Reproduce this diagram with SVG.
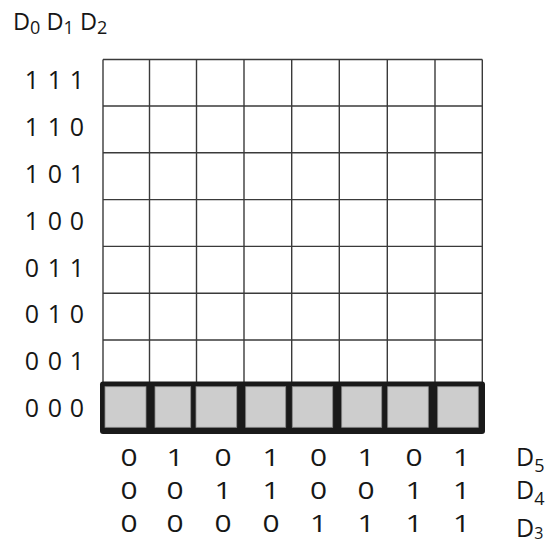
<svg xmlns="http://www.w3.org/2000/svg" width="555" height="547" viewBox="0 0 555 547">
<style>
  text { font-family: "Open Sans", "Noto Sans", sans-serif; fill: #161616; }
  .lbl { font-size: 25px; text-anchor: middle; }
  .bot { font-size: 23px; text-anchor: middle; }
  .D { font-size: 23.5px; }
  .Dr { font-size: 25px; }
  .grid line { stroke: #3a3a3a; stroke-width: 1.4; }
  .cell { fill: #cdcdcd; stroke: #8a8a8a; stroke-width: 0.8; }
</style>
<rect width="555" height="547" fill="#ffffff"/>

<g id="header">
  <text class="D" x="13" y="29.5">D<tspan font-size="18" dy="4">0</tspan></text>
  <text class="D" x="46.5" y="29.5">D<tspan font-size="18" dy="4">1</tspan></text>
  <text class="D" x="80" y="29.5">D<tspan font-size="18" dy="4">2</tspan></text>
</g>

<g id="grid" class="grid">
  <rect x="103" y="59.5" width="379.3" height="324.5" fill="#ffffff"/>
  <line x1="103" y1="59.5" x2="482.3" y2="59.5"/>
  <line x1="103" y1="106" x2="482.3" y2="106"/>
  <line x1="103" y1="152.8" x2="482.3" y2="152.8"/>
  <line x1="103" y1="199.6" x2="482.3" y2="199.6"/>
  <line x1="103" y1="246.4" x2="482.3" y2="246.4"/>
  <line x1="103" y1="293.2" x2="482.3" y2="293.2"/>
  <line x1="103" y1="340" x2="482.3" y2="340"/>
  <line x1="103" y1="59.5" x2="103" y2="384"/>
  <line x1="149.5" y1="59.5" x2="149.5" y2="384"/>
  <line x1="196.5" y1="59.5" x2="196.5" y2="384"/>
  <line x1="244" y1="59.5" x2="244" y2="384"/>
  <line x1="291.7" y1="59.5" x2="291.7" y2="384"/>
  <line x1="339.3" y1="59.5" x2="339.3" y2="384"/>
  <line x1="387.3" y1="59.5" x2="387.3" y2="384"/>
  <line x1="435" y1="59.5" x2="435" y2="384"/>
  <line x1="482.3" y1="59.5" x2="482.3" y2="384"/>
</g>

<g id="row000">
  <rect x="100" y="381.5" width="385" height="52.5" rx="3" fill="#1a1a1a"/>
  <rect class="cell" x="105" y="386.7" width="41" height="40.6"/>
  <rect class="cell" x="155" y="386.7" width="35.7" height="40.6"/>
  <rect class="cell" x="196" y="386.7" width="40.7" height="40.6"/>
  <rect class="cell" x="245.7" y="386.7" width="40" height="40.6"/>
  <rect class="cell" x="292.3" y="386.7" width="40.4" height="40.6"/>
  <rect class="cell" x="341.7" y="386.7" width="40" height="40.6"/>
  <rect class="cell" x="387.7" y="386.7" width="40.6" height="40.6"/>
  <rect class="cell" x="437.7" y="386.7" width="40.6" height="40.6"/>
</g>

<g id="row-labels" class="lbl">
  <text x="32" y="89.3">1</text><text x="55" y="89.3">1</text><text x="77" y="89.3">1</text>
  <text x="32" y="136.2">1</text><text x="55" y="136.2">1</text><text x="77" y="136.2">0</text>
  <text x="32" y="183">1</text><text x="55" y="183">0</text><text x="77" y="183">1</text>
  <text x="32" y="229.8">1</text><text x="55" y="229.8">0</text><text x="77" y="229.8">0</text>
  <text x="32" y="276.6">0</text><text x="55" y="276.6">1</text><text x="77" y="276.6">1</text>
  <text x="32" y="323.3">0</text><text x="55" y="323.3">1</text><text x="77" y="323.3">0</text>
  <text x="32" y="370">0</text><text x="55" y="370">0</text><text x="77" y="370">1</text>
  <text x="32" y="416.7">0</text><text x="55" y="416.7">0</text><text x="77" y="416.7">0</text>
</g>

<g id="col-labels" class="bot">
  <g transform="translate(0,466)">
    <text transform="translate(129,0) scale(1.3,1)">0</text>
    <text transform="translate(175,0) scale(1.3,1)">1</text>
    <text transform="translate(223,0) scale(1.3,1)">0</text>
    <text transform="translate(271,0) scale(1.3,1)">1</text>
    <text transform="translate(318.5,0) scale(1.3,1)">0</text>
    <text transform="translate(366,0) scale(1.3,1)">1</text>
    <text transform="translate(414,0) scale(1.3,1)">0</text>
    <text transform="translate(461.5,0) scale(1.3,1)">1</text>
  </g>
  <g transform="translate(0,498.5)">
    <text transform="translate(129,0) scale(1.3,1)">0</text>
    <text transform="translate(175,0) scale(1.3,1)">0</text>
    <text transform="translate(223,0) scale(1.3,1)">1</text>
    <text transform="translate(271,0) scale(1.3,1)">1</text>
    <text transform="translate(318.5,0) scale(1.3,1)">0</text>
    <text transform="translate(366,0) scale(1.3,1)">0</text>
    <text transform="translate(414,0) scale(1.3,1)">1</text>
    <text transform="translate(461.5,0) scale(1.3,1)">1</text>
  </g>
  <g transform="translate(0,531.5)">
    <text transform="translate(129,0) scale(1.3,1)">0</text>
    <text transform="translate(175,0) scale(1.3,1)">0</text>
    <text transform="translate(223,0) scale(1.3,1)">0</text>
    <text transform="translate(271,0) scale(1.3,1)">0</text>
    <text transform="translate(318.5,0) scale(1.3,1)">1</text>
    <text transform="translate(366,0) scale(1.3,1)">1</text>
    <text transform="translate(414,0) scale(1.3,1)">1</text>
    <text transform="translate(461.5,0) scale(1.3,1)">1</text>
  </g>
</g>

<g id="bit-names">
  <text class="Dr" x="516" y="466">D<tspan font-size="18" dy="6">5</tspan></text>
  <text class="Dr" x="516" y="498.5">D<tspan font-size="18" dy="6">4</tspan></text>
  <text class="Dr" x="516" y="537">D<tspan font-size="16" dy="2">3</tspan></text>
</g>
</svg>
